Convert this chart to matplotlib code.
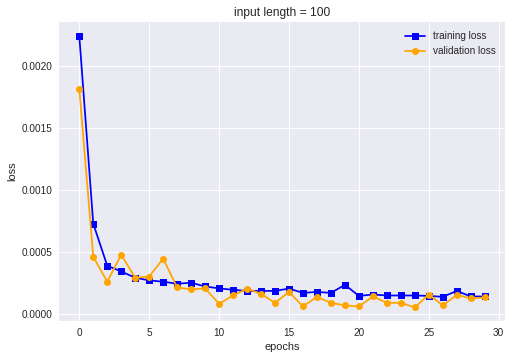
import numpy as np
import matplotlib
matplotlib.use("Agg")
import matplotlib.pyplot as plt

# ── Loss values ──────────────────────────────────────────────
epochs = list(range(30))

train_loss = [0.002242, 0.000726, 0.000387, 0.000341, 0.000290,
              0.000269, 0.000258, 0.000242, 0.000250, 0.000220,
              0.000204, 0.000193, 0.000184, 0.000184, 0.000184,
              0.000203, 0.000168, 0.000176, 0.000168, 0.000233,
              0.000144, 0.000155, 0.000147, 0.000147, 0.000147,
              0.000144, 0.000136, 0.000184, 0.000139, 0.000139]

val_loss = [0.001815, 0.000460, 0.000258, 0.000476, 0.000290,
            0.000300, 0.000444, 0.000212, 0.000196, 0.000204,
            0.000080, 0.000147, 0.000203, 0.000160, 0.000088,
            0.000176, 0.000059, 0.000136, 0.000088, 0.000067,
            0.000059, 0.000139, 0.000088, 0.000088, 0.000051,
            0.000155, 0.000067, 0.000152, 0.000123, 0.000131]

plt.style.use("seaborn-v0_8")

fig, ax = plt.subplots(figsize=(512 / 72, 359 / 72), dpi=72)

ax.plot(epochs, train_loss, marker="s", color="blue", label="training loss")
ax.plot(epochs, val_loss,   marker="o", color="orange", label="validation loss")

ax.set_title("input length = 100")
ax.set_xlabel("epochs")
ax.set_ylabel("loss")
ax.legend(loc="upper right")

fig.subplots_adjust(left=59 / 512, right=505 / 512,
                    top=1 - 22 / 359, bottom=1 - 321 / 359)
plt.savefig("out.png", dpi=72)
plt.close()
